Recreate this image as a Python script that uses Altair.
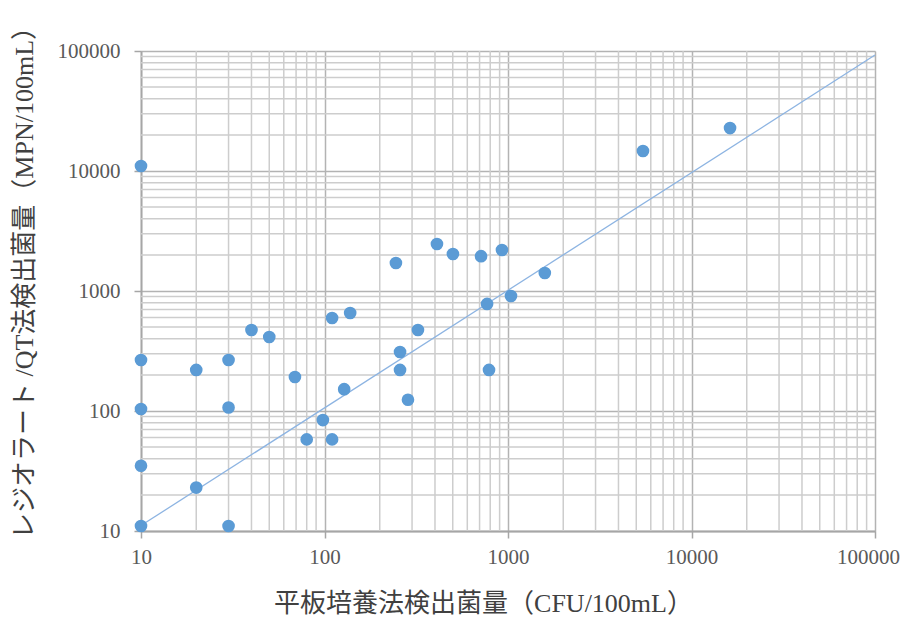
import altair as alt
import pandas as pd

# Plate culture count (CFU/100mL) vs Legiolert/QT count (MPN/100mL)
plate = [10, 10, 10, 10, 10, 20, 20, 30, 30, 30, 40, 50, 69, 80, 98, 110, 110,
         128, 138, 245, 258, 258, 285, 323, 410, 501, 713, 769, 788, 927, 1038,
         1587, 5440, 16220]
legio = [11000, 266, 104, 35, 11, 220, 23, 266, 107, 11, 473, 414, 192, 58, 84,
         596, 58, 152, 656, 1711, 310, 220, 124, 473, 2465, 2034, 1950, 780, 220,
         2197, 908, 1413, 14680, 22800]

trend_x = [10, 100000]
trend_y = [11.1, 92600]

major_ticks = [10, 100, 1000, 10000, 100000]
minor_ticks = [m * d for d in [10, 100, 1000, 10000] for m in range(2, 10)]

FONT = "Liberation Serif, Noto Sans CJK JP"
LABEL_COLOR = "#595959"
TITLE_COLOR = "#404040"

xscale = alt.Scale(type="log", domain=[10, 100000], nice=False)
yscale = alt.Scale(type="log", domain=[10, 100000], nice=False)

df = pd.DataFrame({"plate": plate, "legio": legio})
minor_df = pd.DataFrame({"v": minor_ticks})
trend_df = pd.DataFrame({"tx": trend_x, "ty": trend_y})

axis_common = dict(
    values=major_ticks,
    format="d",
    grid=True,
    gridColor="#b3b3b3",
    gridWidth=1.5,
    domainColor="#a6a6a6",
    domainWidth=1.8,
    tickColor="#a6a6a6",
    tickSize=7,
    tickWidth=1.5,
    labelFlush=False,
    labelOverlap=False,
    labelFont=FONT,
    labelFontSize=21,
    labelColor=LABEL_COLOR,
    titleFont=FONT,
    titleFontSize=26,
    titleFontWeight="normal",
    titleColor=TITLE_COLOR,
)

xaxis = alt.Axis(
    title="平板培養法検出菌量（CFU/100mL）",
    labelPadding=8,
    labelOffset={"condition": {"test": "datum.value >= 100000", "value": -7}, "value": 0},
    titleX=342,
    titleY=72,
    titleBaseline="middle",
    titleAlign="center",
    **axis_common,
)
yaxis = alt.Axis(
    title="レジオラート /QT法検出菌量（MPN/100mL）",
    labelPadding=14,
    titleX=-117,
    titleY=225,
    titleAngle=-90,
    titleBaseline="middle",
    titleAlign="center",
    **axis_common,
)

minor_x = alt.Chart(minor_df).mark_rule(color="#cdcdcd", strokeWidth=1.5).encode(
    x=alt.X("v:Q", scale=xscale, axis=xaxis)
)
minor_y = alt.Chart(minor_df).mark_rule(color="#cdcdcd", strokeWidth=1.5).encode(
    y=alt.Y("v:Q", scale=yscale, axis=yaxis)
)

trend = alt.Chart(trend_df).mark_line(color="#8db4e2", strokeWidth=1.3).encode(
    x=alt.X("tx:Q", scale=xscale, axis=xaxis),
    y=alt.Y("ty:Q", scale=yscale, axis=yaxis),
)

points = alt.Chart(df).mark_circle(size=160, color="#5b9bd5", opacity=1).encode(
    x=alt.X("plate:Q", scale=xscale, axis=xaxis),
    y=alt.Y("legio:Q", scale=yscale, axis=yaxis),
)

chart = (
    alt.layer(minor_x, minor_y, trend, points)
    .properties(
        width=734,
        height=480,
        autosize=alt.AutoSizeParams(type="none"),
        padding={"left": 133, "top": 43, "right": 26, "bottom": 85},
    )
    .configure_view(strokeWidth=0)
    .configure(background="white")
)

chart.save("out.html", embed_options={"renderer": "svg", "actions": False})
